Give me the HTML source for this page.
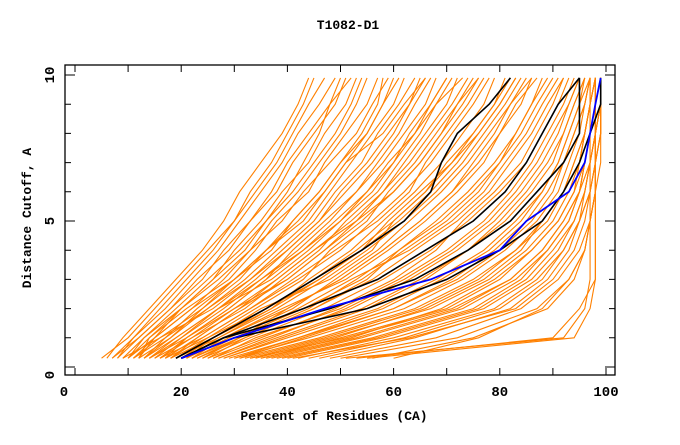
<!DOCTYPE html>
<html><head><meta charset="utf-8"><style>
body{margin:0;background:#fff}
svg text{font-family:"Liberation Mono",monospace;font-weight:bold;fill:#000}
</style></head><body>
<svg id="chart" width="680" height="440" viewBox="0 0 680 440" xmlns="http://www.w3.org/2000/svg">
<text x="348" y="29" font-size="13" text-anchor="middle">T1082-D1</text>
<g id="series"></g>
<g id="axes"></g>
<text x="334" y="420" font-size="13" text-anchor="middle">Percent of Residues (CA)</text>
<text transform="translate(31,218) rotate(-90)" font-size="13" text-anchor="middle">Distance Cutoff, A</text>
</svg>
<script>
const cutoffs=[0.3,1,2,3,4,5,6,7,8,9,9.9];
const xTicks=[0,20,40,60,80,100];
const yTicks=[0,5,10];
const orange=[
[5,10,15,20,25,30,33,37,40,43,45],[8,12,18,24,28,33,37,40,44,48,50],[10,15,22,28,33,37,42,46,50,53,55],
[12,18,25,32,38,44,48,52,56,60,62],[14,20,28,35,42,48,53,58,62,66,68],[15,22,30,38,45,52,58,62,66,70,72],
[16,24,33,42,50,56,62,67,71,75,78],[18,26,36,46,54,61,67,72,76,80,83],[20,28,40,50,58,65,71,76,80,84,86],
[22,30,43,54,62,70,76,80,84,87,90],[24,33,47,58,67,74,80,85,88,91,93],[26,36,52,63,72,79,84,88,91,93,95],
[28,40,57,68,77,83,88,91,93,95,96],[30,44,62,73,81,87,91,93,95,96,97],[33,48,67,78,85,90,93,95,96,97,98],
[36,53,72,82,88,92,95,96,97,98,98],[40,58,77,86,91,94,96,97,98,98,99],[12,14,20,26,32,36,40,43,46,48,52],
[9,16,24,30,36,41,46,50,54,57,58],[18,23,31,40,47,54,60,65,69,73,76],[21,27,38,47,55,62,68,73,77,81,84],
[25,32,45,56,64,72,78,82,86,89,92],[27,38,54,65,74,81,86,90,92,94,96],[31,46,64,75,83,88,92,94,96,97,97],
[35,50,70,80,86,91,94,95,96,97,98],[17,21,29,36,43,50,56,60,64,68,71],[23,31,44,53,61,68,74,79,83,86,88],
[29,42,60,71,79,85,89,92,94,96,97],[38,56,75,84,89,93,95,96,97,98,99],[13,19,27,34,40,46,50,55,59,63,65],
[51,92,96,97,97,97,97,97,97,97,97],[53,90,95,98,98,98,98,98,98,98,98],[55,94,97,98,98,98,98,98,98,98,98],
[6,9,14,19,24,28,31,35,39,42,44],[7,11,17,22,27,31,35,39,42,46,49],[9,13,20,26,30,35,39,44,47,51,53],
[10,14,21,29,34,38,44,47,51,55,57],[11,17,23,30,37,41,46,50,55,58,60],[11,16,26,33,39,45,49,54,57,61,64],
[13,18,24,31,36,43,47,51,58,62,66],[14,21,29,36,41,47,53,57,61,64,67],[15,20,27,37,44,50,55,60,63,67,70],
[16,22,32,39,46,51,57,61,65,68,73],[17,25,34,43,48,55,59,64,68,72,75],[18,24,33,41,49,57,63,66,70,74,77],
[19,27,37,44,52,58,64,69,73,77,79],[20,26,35,48,56,60,66,70,75,79,82],[21,29,41,49,57,63,69,74,78,82,85],
[22,28,39,51,59,66,72,77,80,83,87],[23,32,45,55,61,69,75,80,83,86,89],[24,31,42,52,63,71,77,81,85,88,91],
[25,35,49,60,68,73,79,84,87,90,92],[26,34,50,61,70,77,82,86,89,92,94],[27,37,51,62,71,78,83,87,90,93,95],
[28,39,55,66,74,80,85,89,92,94,96],[30,42,58,69,78,84,88,91,93,95,97],[31,43,60,72,80,86,90,92,94,96,97],
[32,47,65,76,83,89,92,94,96,97,98],[34,49,66,77,84,88,92,95,96,97,98],[35,52,69,79,86,91,94,96,97,98,99],
[37,54,73,83,89,93,95,97,98,98,99],[39,57,76,85,90,94,96,97,98,99,99],[42,60,79,87,92,95,96,97,98,99,99],
[44,62,80,88,92,95,97,98,98,99,99],[46,64,82,89,93,95,97,98,99,99,99],[50,72,87,93,96,97,98,98,99,99,99],
[48,68,84,91,95,97,98,98,99,99,99],[56,75,89,94,96,97,98,99,99,99,99],[60,76,88,93,96,97,98,98,98,99,99],
[41,63,83,90,94,96,97,98,98,99,99],[33,51,71,82,88,92,95,96,97,98,98],
[8,11,16,21,26,30,34,38,41,44,47],[10,13,19,25,31,36,41,45,49,52,54],[12,15,22,30,36,42,47,51,55,58,61],
[13,17,25,33,40,46,51,56,60,63,66],[14,19,27,35,43,49,55,59,64,67,70],[16,21,30,40,47,53,58,63,67,71,74],
[17,23,31,38,45,53,60,65,69,72,76],[19,25,36,45,53,60,66,71,75,79,81],[21,26,37,46,54,59,65,71,76,80,83],
[22,31,40,50,58,65,71,75,79,82,86],[7,12,18,23,29,33,38,41,45,49,51],[11,15,20,27,33,39,43,48,53,56,59]
];
const black=[
[19,26,36,45,54,62,67,69,72,78,82],[20,28,43,57,66,75,81,85,88,91,95],
[20,28,48,64,74,82,87,92,95,95,95],[20,30,55,70,80,88,92,95,97,99,99]
];
const blue=[20,30,47,67,80,85,93,96,97,98,99];
const NS="http://www.w3.org/2000/svg";
function X(p){return 75+p*5.31;}
function Y(c){return 367-c*29.2;}
const g=document.getElementById('series'),ax=document.getElementById('axes');
function line(vals,color,w,name){
  const pl=document.createElementNS(NS,'polyline');
  pl.setAttribute('points',vals.map((v,i)=>X(v)+','+Y(cutoffs[i])).join(' '));
  pl.setAttribute('fill','none');pl.setAttribute('stroke',color);pl.setAttribute('stroke-width',w);
  
  
  g.appendChild(pl);
}
orange.forEach((s,i)=>line(s,'#ff8000',1.1,'model-line-'+i));
black.forEach((s,i)=>line(s,'#000',1.6,'reference-line-'+i));
line(blue,'#0000ff',1.8,'target-line');
function el(tag,attrs){const e=document.createElementNS(NS,tag);for(const k in attrs)e.setAttribute(k,attrs[k]);ax.appendChild(e);return e;}
const fr=el('rect',{x:65,y:65,width:550,height:310,fill:'none',stroke:'#000','stroke-width':1.3});


for(let p=0;p<=100;p+=10){
  const t=el('path',{d:`M${X(p)},375v-7M${X(p)},65v7`,stroke:'#000'});
  
  
}
for(let c=0;c<=10;c++){
  const L=c%5===0?10:6;
  const t=el('path',{d:`M65,${Y(c)}h${L}M615,${Y(c)}h-${L}`,stroke:'#000'});
  
  
}
xTicks.forEach(v=>{const t=el('text',{x:v===0?64:X(v),y:396,'font-size':14,'text-anchor':'middle'});t.textContent=v;
  
  });
yTicks.forEach(v=>{const t=el('text',{transform:`translate(54,${v===0?375:Y(v)}) rotate(-90)`,'font-size':14,'text-anchor':'middle'});t.textContent=v;
  
  });
</script>
</body></html>
